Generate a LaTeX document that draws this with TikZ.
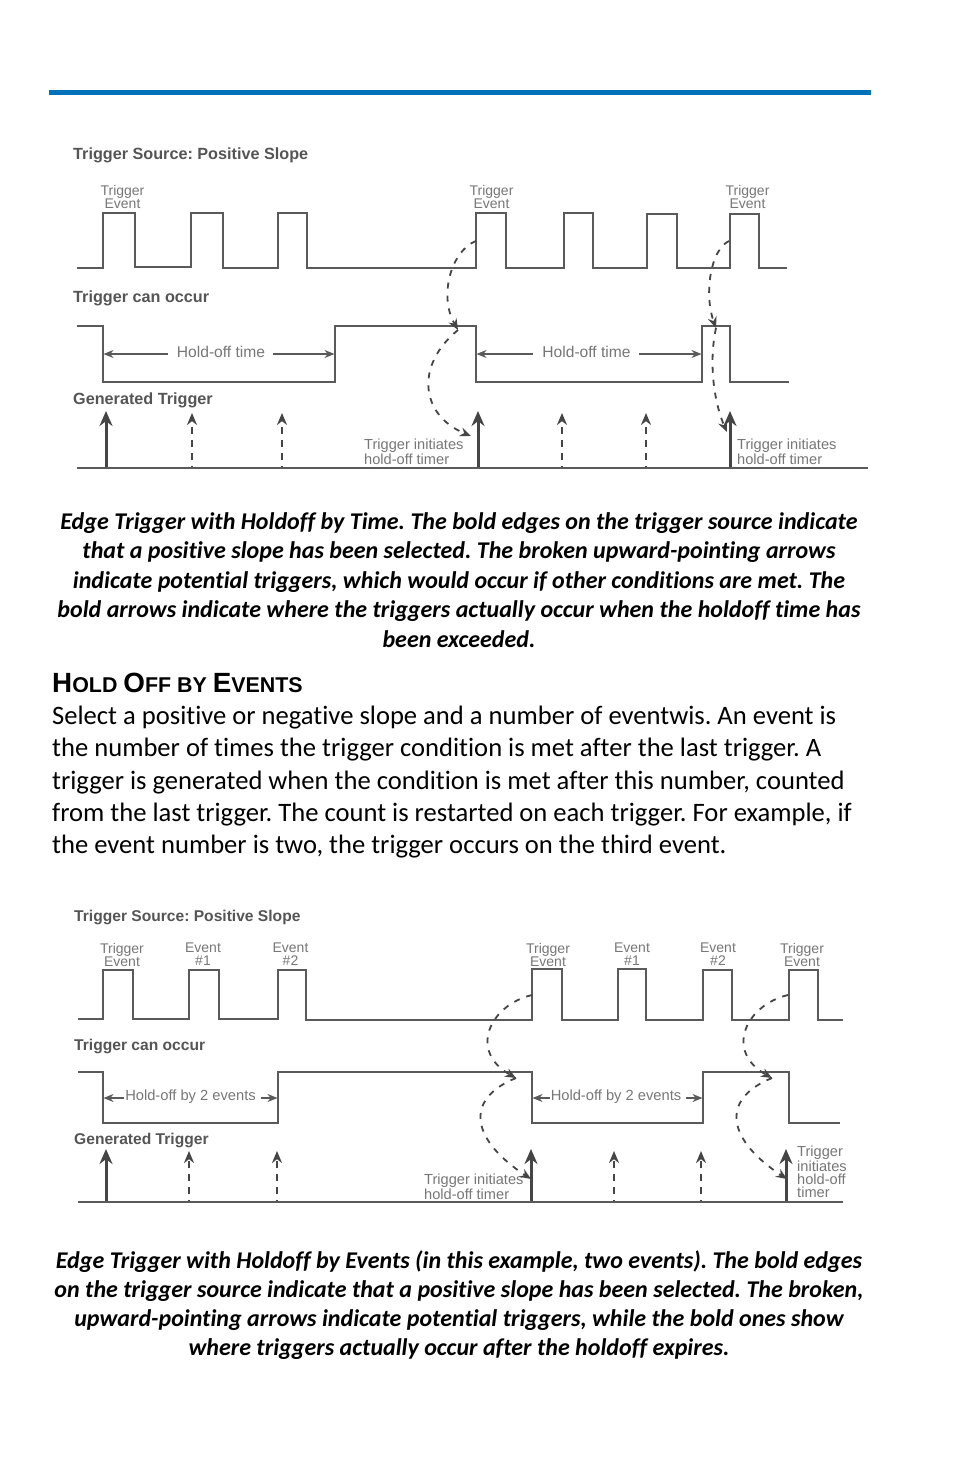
\documentclass[tikz,border=0pt]{standalone}
\usepackage{fontspec}
\setmainfont{Carlito}[Ligatures=NoCommon]
\newfontfamily\lib{Liberation Sans}
\usetikzlibrary{arrows.meta}
\definecolor{sigc}{HTML}{5A5A5A}
\definecolor{darkc}{HTML}{454545}
\definecolor{headc}{HTML}{555555}
\definecolor{labc}{HTML}{777777}
\definecolor{rulec}{HTML}{0072BC}
\tikzset{
 sig/.style={draw=sigc,line width=2.2pt,line join=miter},
 oneline/.style={draw=sigc,line width=1.6pt,-{Stealth[length=10pt,width=8pt]}},
 axisl/.style={draw=sigc,line width=2.6pt},
 solidarr/.style={draw=darkc,line width=3pt,-{Stealth[length=15pt,width=13pt]}},
 potarr/.style={draw=darkc,line width=2.6pt,dash pattern=on 7pt off 6pt,dash phase=5pt,-{Stealth[length=12pt,width=10pt]}},
 curvearr/.style={draw=darkc,line width=1.8pt,dash pattern=on 6pt off 7pt,-{Stealth[length=11pt,width=9pt]}},
 headtxt/.style={anchor=base west,inner sep=0pt,text=headc,font=\frenchspacing\lib\bfseries\fontsize{16.2}{18}\selectfont},
 headtxtb/.style={headtxt,font=\frenchspacing\lib\bfseries\fontsize{15.6}{18}\selectfont},
 labtxt/.style={inner sep=0pt,align=center,text=labc,font=\lib\fontsize{14}{13}\selectfont},
 labl/.style={labtxt,align=left,anchor=west,font=\lib\fontsize{14.6}{13}\selectfont},
 holdtxt/.style={inner sep=0pt,text=labc,font=\lib\fontsize{15.6}{13}\selectfont},
 holdtxtb/.style={inner sep=0pt,text=labc,font=\lib\fontsize{14.7}{13}\selectfont},
 captxt/.style={inner sep=0pt,anchor=base,font=\frenchspacing\bfseries\itshape\fontsize{24}{28}\selectfont,text=black},
 bodytxt/.style={inner sep=0pt,anchor=base west,font=\frenchspacing\fontsize{26.6}{30}\selectfont,text=black},
}
\begin{document}
\begin{tikzpicture}[x=1pt,y=-1pt]
\useasboundingbox (0,0) rectangle (954,1475);
\fill[white] (0,0) rectangle (954,1475);
\fill[rulec] (49,90) rectangle (871,95);

% ---------- Diagram 1 ----------
\node[headtxt] (a1) at (73,159) {Trigger Source: Positive Slope};
\node[headtxt] (a2) at (73,302) {Trigger can occur};
\node[headtxt] (a3) at (73,404) {Generated Trigger};
\node[labtxt] (at1) at (122.5,196.5) {Trigger\\Event};
\node[labtxt] (at2) at (491.5,196.5) {Trigger\\Event};
\node[labtxt] (at3) at (747.5,196.5) {Trigger\\Event};
\draw[sig] (77,268)-|(103,213)-|(135,267)-|(191,213)-|(223,268)-|(278,213)-|(307,268)-|(476,213)-|(506,268)-|(564,213)-|(593,268)-|(647,214)-|(677,268)-|(730,214)-|(759,268)--(787,268);
\draw[sig] (77,326)-|(103,382)-|(335,326)-|(476,382)-|(702,326)-|(730,382)--(789,382);
\node[holdtxt] (ah1) at (221,351.5) {Hold-off time};
\node[holdtxt] (ah2) at (586.5,351.5) {Hold-off time};
\coordinate (ah1l) at (103.5,354); \coordinate (ah1r) at (334.5,354);
\coordinate (ah2l) at (476.5,354); \coordinate (ah2r) at (701.5,354);
\draw[oneline] (ah1.west)+(-9,2.5) -- (ah1l);
\draw[oneline] (ah1.east)+(8,2.5) -- (ah1r);
\draw[oneline] (ah2.west)+(-9,2.5) -- (ah2l);
\draw[oneline] (ah2.east)+(8,2.5) -- (ah2r);
\coordinate (ab0) at (77,468); \coordinate (ab1) at (868,468);
\foreach \n/\x in {s1/106,s2/478,s3/730}{\coordinate (\n b) at (\x,468); \coordinate (\n t) at (\x,411); \draw[solidarr] (\n b) -- (\n t);}
\foreach \n/\x in {p1/192,p2/282,p3/562,p4/646}{\coordinate (\n b) at (\x,468); \coordinate (\n t) at (\x,413); \draw[potarr] (\n b) -- (\n t);}
\draw[axisl] (ab0) -- (ab1);
\node[labl] (ai1) at (364,452) {Trigger initiates\\hold-off timer};
\node[labl] (ai2) at (737,452) {Trigger initiates\\hold-off timer};
\coordinate (c1) at (476,241); \coordinate (c2) at (458,330); \coordinate (c3) at (471,436);
\coordinate (c4) at (729,241); \coordinate (c5) at (716,328); \coordinate (c6) at (727,432);
\draw[curvearr] (c1) .. controls (452,250) and (438,295) .. (c2);
\draw[curvearr] (c2) .. controls (415,365) and (420,415) .. (c3);
\draw[curvearr] (c4) .. controls (710,250) and (704,295) .. (c5);
\draw[curvearr] (c5) .. controls (708,365) and (715,405) .. (c6);

% ---------- Captions and text ----------
\node[captxt] (t1) at (459,529.5) {Edge Trigger with Holdoff by Time. The bold edges on the trigger source indicate};
\node[captxt] (t2) at (459,558.5) {that a positive slope has been selected. The broken upward-pointing arrows};
\node[captxt] (t3) at (459,588) {indicate potential triggers, which would occur if other conditions are met. The};
\node[captxt] (t4) at (459,617.5) {bold arrows indicate where the triggers actually occur when the holdoff time has};
\node[captxt] (t5) at (459,647) {been exceeded.};
\node[inner sep=0pt,anchor=base west,font=\lib\bfseries\fontsize{21.4}{24}\selectfont] (h) at (52,692) {{\fontsize{27.8}{24}\selectfont H}OLD {\fontsize{27.8}{24}\selectfont O}FF BY {\fontsize{27.8}{24}\selectfont E}VENTS};
\node[bodytxt] (b1) at (52,724) {Select a positive or negative slope and a number of eventwis. An event is};
\node[bodytxt] (b2) at (52,756) {the number of times the trigger condition is met after the last trigger. A};
\node[bodytxt] (b3) at (52,789) {trigger is generated when the condition is met after this number, counted};
\node[bodytxt] (b4) at (52,821) {from the last trigger. The count is restarted on each trigger. For example, if};
\node[bodytxt] (b5) at (52,853) {the event number is two, the trigger occurs on the third event.};

% ---------- Diagram 2 ----------
\node[headtxtb] (d1) at (74,921) {Trigger Source: Positive Slope};
\node[headtxtb] (d2) at (74,1050.5) {Trigger can occur};
\node[headtxtb] (d3) at (74,1144) {Generated Trigger};
\node[labtxt] (dt1) at (122,954.5) {Trigger\\Event};
\node[labtxt] (dt2) at (203,954.5) {Event\\\#1};
\node[labtxt] (dt3) at (290.5,954.5) {Event\\\#2};
\node[labtxt] (dt4) at (548,954.5) {Trigger\\Event};
\node[labtxt] (dt5) at (632,954.5) {Event\\\#1};
\node[labtxt] (dt6) at (718,954.5) {Event\\\#2};
\node[labtxt] (dt7) at (802,954.5) {Trigger\\Event};
\draw[sig] (78,1019)-|(103,970)-|(133,1019)-|(189,970)-|(219,1019)-|(278,970)-|(306,1020)-|(532,969)-|(562,1020)-|(618,969)-|(646,1020)-|(703,970)-|(732,1020)-|(789,970)-|(818,1020)--(843,1020);
\draw[sig] (78,1072)-|(103,1123)-|(278,1072)-|(532,1123)-|(703,1072)-|(789,1123)--(840,1123);
\node[holdtxtb] (dh1) at (190.5,1097) {Hold-off by 2 events};
\node[holdtxtb] (dh2) at (616,1097) {Hold-off by 2 events};
\coordinate (dh1l) at (103.5,1098); \coordinate (dh1r) at (277.5,1098);
\coordinate (dh2l) at (532.5,1098); \coordinate (dh2r) at (702.5,1098);
\draw[oneline] (dh1.west)+(-1,1) -- (dh1l);
\draw[oneline] (dh1.east)+(5,1) -- (dh1r);
\draw[oneline] (dh2.west)+(-1,1) -- (dh2l);
\draw[oneline] (dh2.east)+(5,1) -- (dh2r);
\coordinate (db0) at (78,1202); \coordinate (db1) at (843,1202);
\foreach \n/\x in {u1/106,u2/531,u3/786}{\coordinate (\n b) at (\x,1202); \coordinate (\n t) at (\x,1149); \draw[solidarr] (\n b) -- (\n t);}
\foreach \n/\x in {q1/189,q2/277,q3/614,q4/701}{\coordinate (\n b) at (\x,1202); \coordinate (\n t) at (\x,1151); \draw[potarr] (\n b) -- (\n t);}
\draw[axisl] (db0) -- (db1);
\node[labl] (di1) at (424,1187) {Trigger initiates\\hold-off timer};
\node[labl] (di2) at (797,1171.5) {Trigger\\initiates\\hold-off\\timer};
\coordinate (e1) at (532,995); \coordinate (e2) at (516,1078); \coordinate (e3) at (531,1179);
\coordinate (e4) at (788,995); \coordinate (e5) at (772,1078); \coordinate (e6) at (787,1179);
\draw[curvearr] (e1) .. controls (490,1005) and (468,1051) .. (e2);
\draw[curvearr] (e2) .. controls (462,1100) and (473,1141) .. (e3);
\draw[curvearr] (e4) .. controls (746,1005) and (724,1051) .. (e5);
\draw[curvearr] (e5) .. controls (718,1100) and (729,1141) .. (e6);

% ---------- Caption 2 ----------
\node[captxt] (k1) at (459,1268.5) {Edge Trigger with Holdoff by Events (in this example, two events). The bold edges};
\node[captxt] (k2) at (459,1297.5) {on the trigger source indicate that a positive slope has been selected. The broken,};
\node[captxt] (k3) at (459,1326.5) {upward-pointing arrows indicate potential triggers, while the bold ones show};
\node[captxt] (k4) at (459,1355.5) {where triggers actually occur after the holdoff expires.};
\end{tikzpicture}
\end{document}
